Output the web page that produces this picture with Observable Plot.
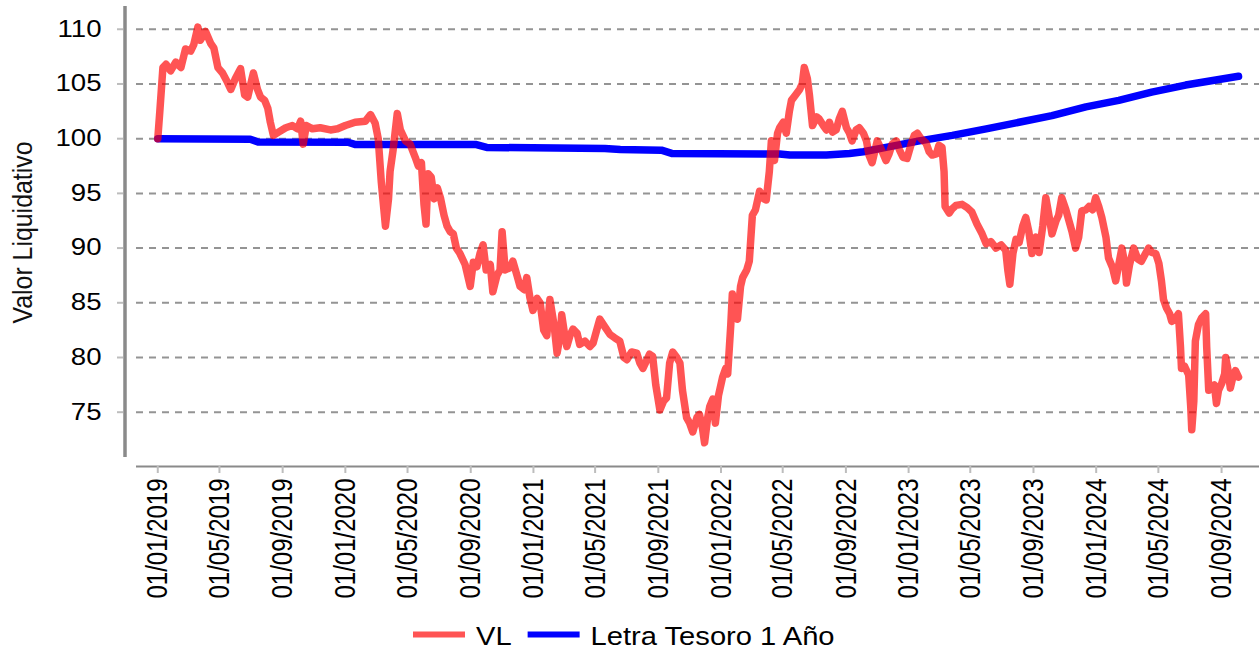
<!DOCTYPE html>
<html>
<head>
<meta charset="utf-8">
<script src="https://cdn.jsdelivr.net/npm/d3@7"></script>
<script src="https://cdn.jsdelivr.net/npm/@observablehq/plot@0.6"></script>
<style>
  body { margin: 0; background: #fff; }
  #chart { position: relative; width: 1259px; height: 650px; overflow: hidden; background: #fff; }
  #chart svg { display: block; }
</style>
</head>
<body>
<div id="chart"></div>
<script>
// ---------- DATA ----------
const startDate = "2019-01-01";           // day 0 of the series
const yLabel = "Valor Liquidativo";
const seriesNames = ["VL", "Letra Tesoro 1 Año"];
const seriesColors = ["#ff0000", "#0000ff"];

// VL : days since 01/01/2019 and value
const vlDays = [0,4,7,10,16,25,35,45,54,64,70,78,83,93,103,109,117,126,134,142,151,161,169,175,181,186,194,200,208,214,219,225,235,249,262,272,278,283,289,301,316,336,350,365,384,404,414,423,429,435,443,449,452,458,466,472,482,491,501,507,513,518,522,526,532,538,544,550,557,563,569,575,581,588,598,608,614,621,627,633,639,647,652,660,666,670,676,685,691,699,705,713,718,724,730,738,744,751,757,763,771,777,783,786,792,796,802,808,816,821,831,841,847,854,860,870,880,889,899,907,913,922,932,938,944,951,957,963,969,977,984,990,996,1002,1010,1016,1021,1029,1035,1041,1049,1054,1060,1064,1070,1074,1080,1085,1091,1099,1105,1109,1115,1118,1124,1128,1134,1138,1146,1151,1157,1163,1171,1179,1184,1190,1194,1200,1206,1210,1217,1223,1229,1233,1241,1249,1254,1258,1264,1268,1274,1282,1287,1295,1301,1307,1313,1320,1326,1332,1340,1346,1351,1359,1365,1373,1379,1384,1390,1396,1400,1408,1417,1423,1429,1437,1443,1450,1458,1466,1472,1478,1485,1495,1501,1507,1515,1520,1526,1530,1532,1540,1546,1553,1565,1575,1584,1594,1604,1612,1621,1631,1641,1650,1654,1658,1664,1670,1676,1683,1689,1695,1701,1709,1715,1722,1728,1734,1740,1748,1753,1759,1767,1773,1779,1786,1792,1798,1806,1812,1819,1825,1831,1837,1845,1850,1858,1864,1870,1876,1882,1885,1891,1899,1907,1914,1922,1928,1934,1942,1948,1953,1957,1963,1969,1973,1979,1986,1990,1992,1998,2006,2010,2012,2016,2019,2025,2031,2039,2041,2045,2050,2056,2060,2064,2070,2076,2078,2082,2087,2093,2097,2103];
const vlValues = [100,102.5,104.5,106.5,106.8,106.2,107,106.5,108.2,108,108.6,110.2,109,109.8,108.7,108.3,106.5,106,105.3,104.5,105.5,106.4,104,103.8,105,106,104.5,103.8,103.5,102.8,101.5,100.3,100.6,101,101.2,100.9,101.6,99.5,101.2,100.9,101,100.8,100.9,101.2,101.5,101.6,102.2,101.4,100,96,92,94.5,97,99,102.3,100.8,99.8,99.5,98.3,97.5,97.8,94,92.2,96.8,96.5,94.5,95.5,94.6,93,92,91.5,91.3,90,89.5,88.5,86.5,88.7,88.3,89.5,90.3,88,88.5,86,87.5,88,91.5,88,88.2,88.8,87.5,86.5,86.2,87.3,85.5,84.3,85.4,85,82.5,82,85.3,83,80.4,82,83.9,82,81,82,82.6,82.2,81.2,81.5,81,81.3,82.5,83.5,82.8,82.1,81.8,81.5,80,79.8,80.5,80.4,79.5,79,79.7,80.3,80.1,77.5,75.2,76,76.3,79.5,80.5,80,79.5,77,74.5,74,73.2,74.5,74.8,73.5,72.2,74.5,75.5,76.2,74,76.5,78.2,79,78.5,83,85.8,84,83.5,86.5,87.3,88,88.8,93,93.5,95.2,94.5,94.4,97,99.8,98,100.5,101,101.5,100.5,102.5,103.5,104,104.5,105,106.5,105.5,104,101.2,102,101.8,101.2,100.8,101.5,100.6,100.8,101.8,102.5,101,100.5,99.8,100.8,101,100.5,99.8,98.5,97.8,99,99.8,99,98,98.6,99.5,99.8,99,98.3,98.2,99.5,100.3,100.5,100,99.6,98.8,98.5,98.6,99.4,99.2,97,93.8,93.2,93.6,93.9,94,93.7,93.3,92.2,91.3,90.4,90.6,90,90.3,89.8,88,86.7,89.5,90.8,90.5,92,92.8,91.5,89.5,91,89.6,92,94.6,93,91.3,92.5,93,94.6,93.5,92.5,91.5,90,91,93.4,93.5,93.8,93.5,94.6,93.8,92.8,91,89.1,88.2,87,88.5,90,88.5,86.8,88.5,90,89,88.8,89.5,90,89.6,89.5,88.6,87,85.3,84.5,84,83.3,83.5,84,81,79,79.2,78.4,75.5,73.4,76,81.5,83,83.6,84,81,77,77.3,77.5,75.8,77,77.6,78.5,80,79,77.2,78.4,78.8,78.2];

// Letra Tesoro 1 Año : days since 01/01/2019 and value
const letraDays = [0,180,195,370,385,620,640,870,900,980,1000,1210,1230,1301,1346,1373,1417,1482,1546,1612,1676,1740,1806,1870,1934,2000,2103];
const letraValues = [100,99.95,99.7,99.67,99.46,99.46,99.2,99.1,99.0,98.95,98.65,98.6,98.5,98.5,98.65,98.8,99.2,99.8,100.3,100.9,101.5,102.1,102.9,103.5,104.25,104.9,105.7];

const xTickLabels = ["01/01/2019","01/05/2019","01/09/2019","01/01/2020","01/05/2020","01/09/2020","01/01/2021","01/05/2021","01/09/2021","01/01/2022","01/05/2022","01/09/2022","01/01/2023","01/05/2023","01/09/2023","01/01/2024","01/05/2024","01/09/2024"];
const yTicks = [75, 80, 85, 90, 95, 100, 105, 110];

// ---------- BUILD ----------
const start = new Date(startDate + "T00:00:00Z");
const toDate = d => new Date(start.getTime() + d * 864e5);
const vl = vlDays.map((d, i) => ({date: toDate(d), value: vlValues[i]}));
const letra = letraDays.map((d, i) => ({date: toDate(d), value: letraValues[i]}));
const parseTick = d3.utcParse("%d/%m/%Y");
const fmt = d3.utcFormat("%d/%m/%Y");
const xTicks = xTickLabels.map(parseTick);

const W = 1259, H = 610;
const xDomain = [toDate(-41.4), toDate(2143.8)];
const yDomain = [70.86, 112.08];
const FONT = "'Liberation Sans', Arial, sans-serif";

const plot = Plot.plot({
  width: W, height: H,
  marginLeft: 136, marginRight: 0, marginTop: 6, marginBottom: 153,
  style: {fontFamily: FONT, background: "#fff", color: "#000", overflow: "visible"},
  x: {type: "utc", domain: xDomain},
  y: {domain: yDomain},
  marks: [
    Plot.gridY(yTicks, {stroke: "#949494", strokeOpacity: 1, strokeWidth: 2, strokeDasharray: "7,6"}),
    Plot.ruleX([xDomain[0]], {y1: yDomain[0], y2: yDomain[1], dx: -11.5, stroke: "#8a8a8a", strokeWidth: 3.5}),
    Plot.ruleY([yDomain[0]], {dy: 9, stroke: "#8a8a8a", strokeWidth: 2}),
    Plot.axisY(yTicks, {anchor: "left", dx: -13, tickSize: 6, tickPadding: 16, fontSize: 23, label: null}),
    Plot.axisX(xTicks, {anchor: "bottom", dy: 9, tickSize: 7, tickPadding: 5, tickRotate: -90, tickFormat: fmt, fontSize: 30, label: null}),
    Plot.line(letra, {x: "date", y: "value", stroke: seriesColors[1], strokeWidth: 7.5}),
    Plot.line(vl, {x: "date", y: "value", stroke: seriesColors[0], strokeOpacity: 0.67, strokeWidth: 7.5})
  ]
});

const chart = document.getElementById("chart");
chart.appendChild(plot);
const svg = d3.select(plot);

// tick styling
svg.selectAll('g[aria-label="y-axis tick"], g[aria-label="x-axis tick"]')
  .attr("stroke", "#bdbdbd").attr("stroke-width", 2);
svg.selectAll('g[aria-label="y-axis tick"] path, g[aria-label="x-axis tick"] path')
  .attr("stroke", "#bdbdbd").attr("stroke-width", 2);
svg.selectAll('g[aria-label="y-axis tick label"], g[aria-label="x-axis tick label"]').attr("fill", "#000");

// horizontally widened glyphs as in the reference
svg.selectAll('g[aria-label="y-axis tick label"] text').each(function() {
  const L = this.getComputedTextLength();
  this.setAttribute("textLength", L * 1.2);
  this.setAttribute("lengthAdjust", "spacingAndGlyphs");
});
svg.selectAll('g[aria-label="x-axis tick label"] text').each(function() {
  this.setAttribute("textLength", 120);
  this.setAttribute("lengthAdjust", "spacingAndGlyphs");
});

// y-axis title
svg.append("text")
  .attr("transform", "translate(32,232.5) rotate(-90)")
  .attr("text-anchor", "middle")
  .attr("font-family", FONT)
  .attr("font-size", 28)
  .attr("fill", "#111")
  .attr("textLength", 182)
  .attr("lengthAdjust", "spacingAndGlyphs")
  .text(yLabel);

// ---------- LEGEND (below the plot) ----------
const leg = d3.select(chart).append("svg")
  .attr("width", W).attr("height", 40)
  .style("display", "block")
  .attr("font-family", FONT);
let lx = 413;
seriesNames.forEach((name, i) => {
  leg.append("line")
    .attr("x1", lx).attr("x2", lx + 52).attr("y1", 24.5).attr("y2", 24.5)
    .attr("stroke", seriesColors[i])
    .attr("stroke-opacity", i === 0 ? 0.67 : 1)
    .attr("stroke-width", 6);
  lx += 63;
  const t = leg.append("text")
    .attr("x", lx).attr("y", 35)
    .attr("font-size", 26).attr("fill", "#000")
    .text(name);
  const L = t.node().getComputedTextLength() * 1.12;
  t.attr("textLength", L).attr("lengthAdjust", "spacingAndGlyphs");
  lx += L + 16;
});
</script>
</body>
</html>
